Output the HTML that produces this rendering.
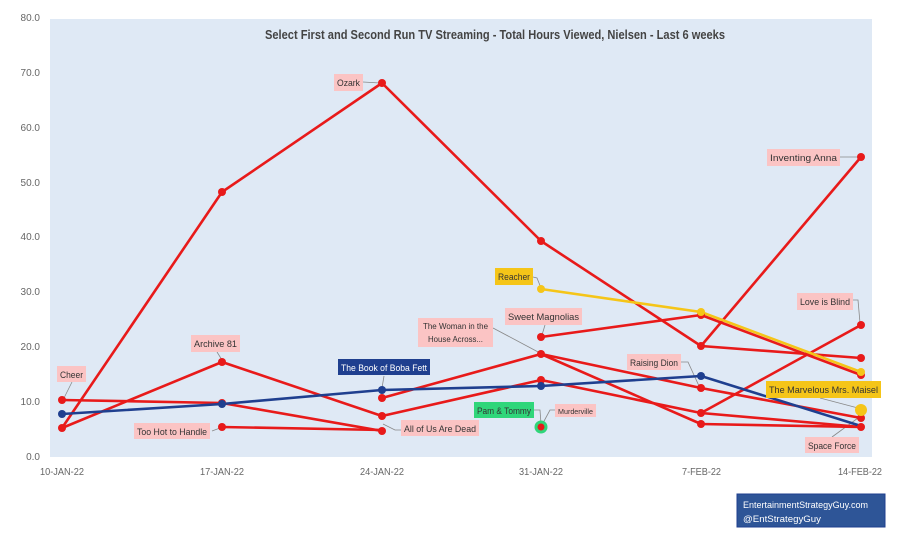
<!DOCTYPE html>
<html><head><meta charset="utf-8"><style>
body{margin:0;background:#fff;}
text{font-family:"Liberation Sans",sans-serif;}
</style></head><body>
<svg width="900" height="544" viewBox="0 0 900 544" xmlns="http://www.w3.org/2000/svg">
<rect x="50" y="19" width="822" height="438" fill="#dfe9f5"/>
<g font-size="10" fill="#666" text-anchor="end">
<text x="40" y="21">80.0</text><text x="40" y="76">70.0</text><text x="40" y="131">60.0</text><text x="40" y="186">50.0</text><text x="40" y="240">40.0</text><text x="40" y="295">30.0</text><text x="40" y="350">20.0</text><text x="40" y="405">10.0</text><text x="40" y="460">0.0</text>
</g>
<g font-size="10" fill="#666">
<text x="40" y="475" textLength="44" lengthAdjust="spacingAndGlyphs">10-JAN-22</text>
<text x="200" y="475" textLength="44" lengthAdjust="spacingAndGlyphs">17-JAN-22</text>
<text x="360" y="475" textLength="44" lengthAdjust="spacingAndGlyphs">24-JAN-22</text>
<text x="519" y="475" textLength="44" lengthAdjust="spacingAndGlyphs">31-JAN-22</text>
<text x="682" y="475" textLength="39" lengthAdjust="spacingAndGlyphs">7-FEB-22</text>
<text x="838" y="475" textLength="44" lengthAdjust="spacingAndGlyphs">14-FEB-22</text>
</g>
<text x="265" y="39" font-size="12.5" font-weight="bold" fill="#444" textLength="460" lengthAdjust="spacingAndGlyphs">Select First and Second Run TV Streaming - Total Hours Viewed, Nielsen - Last 6 weeks</text>
<g stroke="#888" stroke-width="0.8" fill="none">
<path d="M363 82 L380 83"/><path d="M72 382 L64 398"/><path d="M217 352 L222 360"/><path d="M212 431 L220 428"/><path d="M383 424 L395 430 L401 430"/><path d="M384 376 L382 388"/><path d="M493 328 L540 353"/><path d="M533 277 L537 278 L541 288"/><path d="M545 325 L542 335"/><path d="M534 410 L540 410 L541 424"/><path d="M555 410 L550 410 L543 423"/><path d="M681 362 L688 362 L699 386"/><path d="M840 157 L858 157"/><path d="M853 300 L858 300 L860 323"/><path d="M820 398 L858 408"/><path d="M832 437 L858 418"/>
</g>
<g fill="none" stroke-width="2.6" stroke-linejoin="round">
<polyline stroke="#e81a1a" points="62,428 222,192 382,83 541,241 701,346 861,358"/>
<polyline stroke="#e81a1a" points="701,346 861,157"/>
<polyline stroke="#e81a1a" points="62,400 222,403 382,431"/>
<polyline stroke="#e81a1a" points="222,427 382,430"/>
<polyline stroke="#e81a1a" points="62,428 222,362 382,416 541,380 701,413 861,427"/>
<polyline stroke="#e81a1a" points="701,413 861,325"/>
<polyline stroke="#e81a1a" points="382,398 541,354 701,424 861,427"/>
<polyline stroke="#e81a1a" points="541,354 701,388 861,418"/>
<polyline stroke="#e81a1a" points="541,337 701,315 861,375"/>
<polyline stroke="#f5c518" points="541,289 701,312 861,372"/>
<polyline stroke="#1f3f8f" points="62,414 222,404 382,390 541,386 701,376 861,426"/>
</g>
<circle cx="541" cy="427" r="6.5" fill="#2fd67a"/>
<g fill="#e81a1a">
<circle cx="62" cy="428" r="4"/><circle cx="222" cy="192" r="4"/><circle cx="382" cy="83" r="4"/><circle cx="541" cy="241" r="4"/><circle cx="701" cy="346" r="4"/><circle cx="861" cy="358" r="4"/><circle cx="861" cy="157" r="4"/>
<circle cx="62" cy="400" r="4"/><circle cx="222" cy="403" r="4"/><circle cx="382" cy="431" r="4"/><circle cx="222" cy="427" r="4"/>
<circle cx="222" cy="362" r="4"/><circle cx="382" cy="416" r="4"/><circle cx="541" cy="380" r="4"/><circle cx="701" cy="413" r="4"/><circle cx="861" cy="427" r="4"/><circle cx="861" cy="325" r="4"/>
<circle cx="382" cy="398" r="4"/><circle cx="541" cy="354" r="4"/><circle cx="701" cy="424" r="4"/><circle cx="701" cy="388" r="4"/><circle cx="861" cy="418" r="4"/>
<circle cx="541" cy="337" r="4"/><circle cx="701" cy="315" r="4"/><circle cx="861" cy="375" r="4"/><circle cx="541" cy="427" r="3.5"/>
</g>
<g fill="#f5c518"><circle cx="541" cy="289" r="4"/><circle cx="701" cy="312" r="4"/><circle cx="861" cy="372" r="4"/><circle cx="861" cy="410" r="6"/></g>
<g fill="#1f3f8f"><circle cx="62" cy="414" r="4"/><circle cx="222" cy="404" r="4"/><circle cx="382" cy="390" r="4"/><circle cx="541" cy="386" r="4"/><circle cx="701" cy="376" r="4"/></g>
<g font-size="9.5" fill="#333" lengthAdjust="spacingAndGlyphs">
<rect x="334" y="74" width="29" height="17" fill="#fbc4c4"/><text x="337" y="86" textLength="23" lengthAdjust="spacingAndGlyphs">Ozark</text>
<rect x="57" y="366" width="29" height="16" fill="#fbc4c4"/><text x="60" y="378" textLength="23" lengthAdjust="spacingAndGlyphs">Cheer</text>
<rect x="191" y="335" width="49" height="17" fill="#fbc4c4"/><text x="194" y="347" textLength="43" lengthAdjust="spacingAndGlyphs">Archive 81</text>
<rect x="134" y="423" width="76" height="16" fill="#fbc4c4"/><text x="137" y="435" textLength="70" lengthAdjust="spacingAndGlyphs">Too Hot to Handle</text>
<rect x="401" y="420" width="78" height="16" fill="#fbc4c4"/><text x="404" y="432" textLength="72" lengthAdjust="spacingAndGlyphs">All of Us Are Dead</text>
<rect x="418" y="318" width="75" height="29" fill="#fbc4c4"/><text x="423" y="329" font-size="8.5" textLength="65" lengthAdjust="spacingAndGlyphs">The Woman in the</text><text x="428" y="342" font-size="8.5" textLength="55" lengthAdjust="spacingAndGlyphs">House Across...</text>
<rect x="505" y="308" width="77" height="17" fill="#fbc4c4"/><text x="508" y="320" textLength="71" lengthAdjust="spacingAndGlyphs">Sweet Magnolias</text>
<rect x="495" y="268" width="38" height="17" fill="#f5c518"/><text x="498" y="280" textLength="32" lengthAdjust="spacingAndGlyphs">Reacher</text>
<rect x="474" y="402" width="60" height="16" fill="#2fd67a"/><text x="477" y="414" font-size="9" textLength="54" lengthAdjust="spacingAndGlyphs">Pam &amp; Tommy</text>
<rect x="555" y="404" width="41" height="13" fill="#fbc4c4"/><text x="558" y="414" font-size="7.5" textLength="35" lengthAdjust="spacingAndGlyphs">Murderville</text>
<rect x="627" y="354" width="54" height="16" fill="#fbc4c4"/><text x="630" y="366" textLength="48" lengthAdjust="spacingAndGlyphs">Raising Dion</text>
<rect x="767" y="149" width="73" height="17" fill="#fbc4c4"/><text x="770" y="161" textLength="67" lengthAdjust="spacingAndGlyphs">Inventing Anna</text>
<rect x="797" y="293" width="56" height="17" fill="#fbc4c4"/><text x="800" y="305" textLength="50" lengthAdjust="spacingAndGlyphs">Love is Blind</text>
<rect x="766" y="381" width="115" height="17" fill="#f5c518"/><text x="769" y="393" textLength="109" lengthAdjust="spacingAndGlyphs">The Marvelous Mrs. Maisel</text>
<rect x="805" y="437" width="54" height="16" fill="#fbc4c4"/><text x="808" y="449" textLength="48" lengthAdjust="spacingAndGlyphs">Space Force</text>
<rect x="338" y="359" width="92" height="16" fill="#1f3f8f"/><text x="341" y="371" fill="#fff" textLength="86" lengthAdjust="spacingAndGlyphs">The Book of Boba Fett</text>
</g>
<rect x="737" y="494" width="148" height="33" fill="#2e5597" stroke="#1f3f8f"/>
<text x="743" y="508" font-size="9.5" fill="#fff" textLength="125" lengthAdjust="spacingAndGlyphs">EntertainmentStrategyGuy.com</text>
<text x="743" y="522" font-size="9.5" fill="#fff" textLength="78" lengthAdjust="spacingAndGlyphs">@EntStrategyGuy</text>
</svg>
</body></html>
